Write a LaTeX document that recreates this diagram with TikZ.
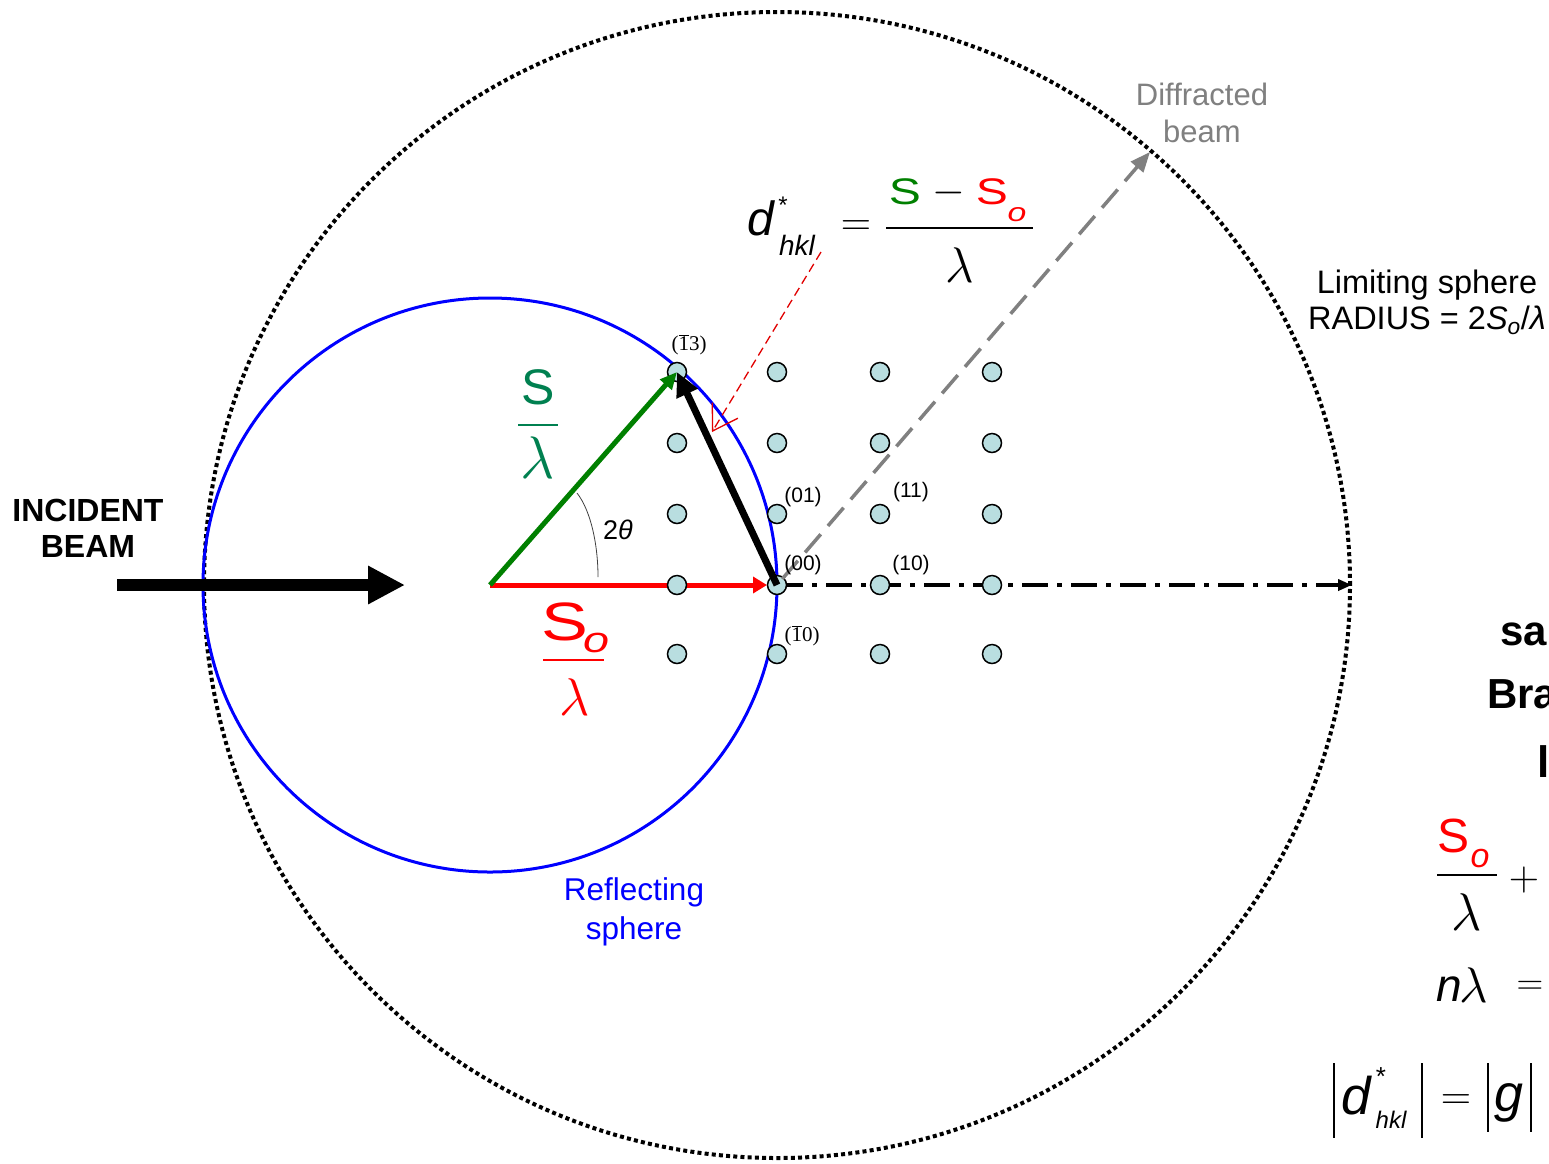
\RequirePackage{fix-cm}
\documentclass[tikz,border=0pt]{standalone}
\usepackage[no-math]{fontspec}
\setmainfont{Liberation Sans}
\newfontfamily\tnr{Liberation Serif}
\usetikzlibrary{arrows.meta}
\definecolor{dotfill}{RGB}{185,222,224}
\definecolor{sgreen}{RGB}{0,128,80}
\definecolor{agreen}{RGB}{0,128,0}
\definecolor{bgray}{RGB}{128,128,128}
\definecolor{dred}{RGB}{225,0,0}
\definecolor{pblue}{RGB}{0,0,255}
\definecolor{pred}{RGB}{255,0,0}
\newcommand\myfs[1]{\fontsize{#1}{#1}\selectfont}
\newcommand\ovbar[1]{\ensuremath{\overline{\mbox{#1}}}}
\newcommand\wide[1]{\scalebox{1.3}[1]{#1}}
\begin{document}
\begin{tikzpicture}[x=1pt,y=-1pt,
  dotnode/.style={circle,draw,line width=1.5pt,fill=dotfill,minimum size=19pt,inner sep=0pt},
  hkllbl/.style={inner sep=0pt,font=\myfs{21}},
  hklserif/.style={inner sep=0pt,font=\myfs{21}\tnr},
  txt/.style={inner sep=0pt},
  bar/.style={line width=1.2pt},
  absbar/.style={line width=1.5pt},
]
\useasboundingbox (0,0) rectangle (1549,1163);
\fill[white] (0,0) rectangle (1549,1163);
\begin{scope}
\clip (0,0) rectangle (1549,1163);

% key coordinates
\coordinate (O) at (490,585);
\coordinate (limE) at (1352,585);
\coordinate (gtip) at (1150,152);
\coordinate (rstart) at (821,252);
\coordinate (rend) at (712,432);
\coordinate (inc0) at (117,585);
\coordinate (inc1) at (405,585);
\coordinate (ang1) at (577,493);
\coordinate (ang2) at (598,577);

% limiting sphere
\draw[line width=4pt,dash pattern=on 4pt off 3.2pt] (777,585) circle[radius=573pt];
% reflecting sphere
\draw[pblue,line width=3pt] (O) circle[radius=287pt];

% dash-dot transmitted line
\coordinate (c00) at (777,585);
\draw[line width=3.5pt,dash pattern=on 26pt off 9pt on 5pt off 9pt,-{Triangle[length=14pt,width=11pt]}] (c00) -- (limE);

% red S_o/lambda arrow
\draw[pred,line width=5pt,-{Triangle[length=14pt,width=16pt]}] (O) -- (767,585);

% lattice points
\foreach \n/\x in {m1/677,z/777,p1/880,p2/992}{
  \foreach \m/\y in {p3/372,p2/443,p1/514,z/585,m1/654}{
    \node[dotnode] (d\n\m) at (\x,\y) {};
  }
}

% green S/lambda arrow
\draw[agreen,line width=5pt,-{Triangle[length=17pt,width=15pt]}] (O) -- (dm1p3.center);
% diffracted beam
\draw[bgray,line width=3.5pt,dash pattern=on 24pt off 11pt,-{Triangle[length=20pt,width=16pt]},shorten <=8pt] (dzz.center) -- (gtip);
% d*hkl vector
\draw[line width=7pt,-{Triangle[length=24pt,width=22pt]}] (dzz.center) -- (dm1p3.center);
% pointer to d*hkl
\draw[dred,line width=1.3pt,dash pattern=on 9pt off 5pt,-{Straight Barb[length=24pt,width=30pt,line width=1.3pt]}] (rstart) -- (rend);
% incident beam
\draw[line width=12pt,-{Triangle[length=37pt,width=36pt]}] (inc0) -- (inc1);
% 2theta arc
\draw[line width=0.8pt,black!75] (ang1) .. controls (591,511) and (598,545) .. (ang2);

% lattice labels
\node[hklserif] (l13) at (689,345) {(\ovbar{1}3)};
\node[hkllbl] (l01) at (803,497) {(01)};
\node[hkllbl] (l11) at (911,492) {(11)};
\node[hkllbl] (l00) at (803,565) {(00)};
\node[hkllbl] (l10) at (911,565) {(10)};
\node[hklserif] (l10b) at (802,636) {(\ovbar{1}0)};

% texts
\node[txt,anchor=north,align=center,font=\fontsize{32}{36}\selectfont\bfseries] (incident) at (88,499) {INCIDENT\\BEAM};
\node[txt,anchor=north,align=center,font=\fontsize{31}{37}\selectfont,text=bgray] (diffr) at (1202,83) {Diffracted\\beam};
\node[txt,anchor=north,align=center,font=\fontsize{32.5}{36}\selectfont] (limit) at (1427,270) {Limiting sphere\\RADIUS = 2\textit{S}\textsubscript{\textit{o}}/\textit{λ}};
\node[txt,anchor=north,align=center,font=\fontsize{31.5}{39}\selectfont,text=pblue] (refl) at (634,877) {Reflecting\\sphere};
\node[txt,font=\myfs{27}] (theta) at (618,530) {2\textit{θ}};

% S/lambda (green)
\node[txt,font=\myfs{50},text=sgreen] (sgS) at (538,387) {S};
\draw[bar,sgreen] (518,425) -- (558,425);
\node[txt,font=\myfs{60},text=sgreen] (sgL) at (538,458) {$\lambda$};

% S_o/lambda (red)
\node[txt,anchor=base west,font=\myfs{54},text=pred] (srS) at (541,640) {\wide{S}\kern-5pt\raisebox{-12pt}{\myfs{36}\itshape\wide{o}}};
\draw[bar,pred] (543,660) -- (604,660);
\node[txt,font=\myfs{53},text=pred] (srL) at (575,697) {$\lambda$};

% top equation
\node[txt,font=\myfs{48}\itshape] (eqd) at (761,218) {d};
\node[txt,anchor=north,font=\myfs{24}] (eqst) at (783,197) {*};
\node[txt,anchor=north,font=\myfs{28}\itshape] (eqhkl) at (797,235) {hkl};
\node[txt,font=\myfs{42}] (eqeq) at (856,228) {$=$};
\node[txt,font=\myfs{37},text=agreen] (eqS) at (905,192) {\wide{S}};
\node[txt,font=\myfs{42}] (eqmin) at (949,193) {$-$};
\node[txt,font=\myfs{37},text=pred] (eqSo) at (992,192) {\wide{S}};
\node[txt,font=\myfs{26}\itshape,text=pred] (eqo) at (1017,215) {\wide{o}};
\draw[bar] (886,228) -- (1033,228);
\node[txt,font=\myfs{50}] (eqlam) at (960,265) {$\lambda$};

% right-hand cut-off text
\node[txt,anchor=base west,font=\myfs{42}\bfseries] (rt1) at (1500,645) {sa};
\node[txt,anchor=base west,font=\myfs{42}\bfseries] (rt2) at (1487,708) {Bra};
\node[txt,anchor=base west,font=\myfs{44}\bfseries] (rt3) at (1537,777) {l};

% bottom-right equations
\node[txt,font=\myfs{48},text=pred] (bS) at (1453,836) {S};
\node[txt,font=\myfs{34}\itshape,text=pred] (bo) at (1480,859) {o};
\draw[bar] (1437,875) -- (1497,875);
\node[txt,font=\myfs{53}] (bL) at (1467,912) {$\lambda$};
\node[txt,font=\myfs{42}] (bplus) at (1524,880) {$+$};
\node[txt,font=\myfs{46}\itshape] (bn) at (1449,989) {n};
\node[txt,font=\myfs{50}] (bnl) at (1474,985) {$\lambda$};
\node[txt,font=\myfs{37}] (beq) at (1530,988) {$=$};
\draw[absbar] (1334,1063) -- (1334,1138);
\draw[absbar] (1422,1063) -- (1422,1138);
\node[txt,font=\myfs{53}\itshape] (bd) at (1356,1096) {d};
\node[txt,anchor=north,font=\myfs{26}] (bst) at (1381,1067) {*};
\node[txt,anchor=north,font=\myfs{24}\itshape] (bhkl) at (1391,1111) {hkl};
\node[txt,font=\myfs{42}] (beq2) at (1456,1102) {$=$};
\draw[absbar] (1488,1063) -- (1488,1132);
\node[txt,font=\myfs{52}\itshape] (bg) at (1509,1103) {g};
\draw[absbar] (1531,1063) -- (1531,1132);
\end{scope}
\end{tikzpicture}
\end{document}
